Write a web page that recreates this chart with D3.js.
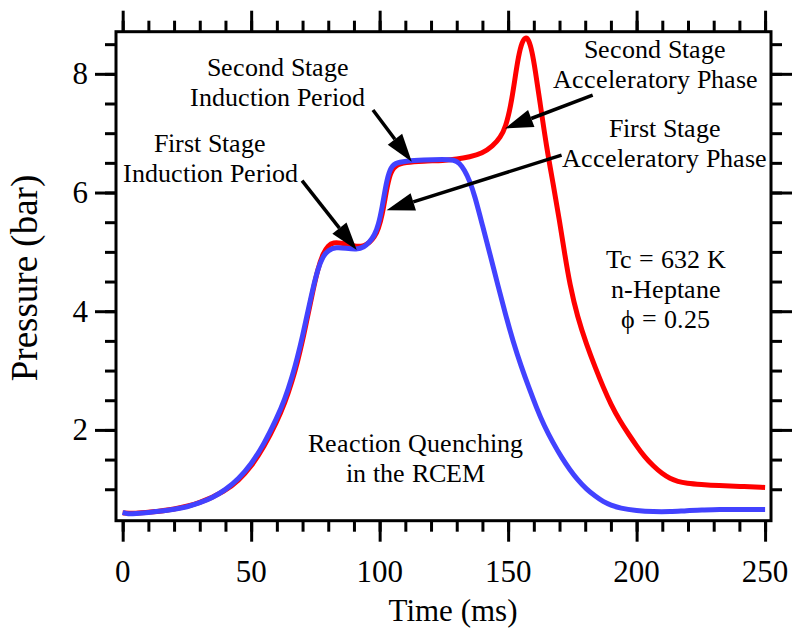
<!DOCTYPE html>
<html>
<head>
<meta charset="utf-8">
<script src="https://cdnjs.cloudflare.com/ajax/libs/d3/7.8.5/d3.min.js"></script>
<style>
  @font-face { font-family: "RefSerif"; src: local("Liberation Serif"), local("LiberationSerif"), local("LiberationSerif-Regular"); }
</style>
</head>
<body style="margin:0">
<script>
// -----------------------------------------------------------------------------
// Data (time in ms, pressure in bar)
// -----------------------------------------------------------------------------

var blueTime = [0, 2, 5, 10, 15, 20, 25, 30, 35, 40, 45, 50, 55, 60, 63, 66, 68, 70, 72, 74, 76, 78,
  80, 83, 87, 91, 94, 96, 98, 99.5, 101, 102.5, 104, 106, 110, 117, 125, 129, 131, 133, 135, 137,
  140, 143, 146, 149, 152, 155, 158, 161, 164, 167.5, 171, 174, 177, 180.5, 184, 187, 190, 193.5,
  200, 206.5, 213, 219.5, 226, 232, 240, 250];
var bluePressure = [0.61, 0.58, 0.59, 0.61, 0.63, 0.66, 0.70, 0.77, 0.86, 0.99, 1.17, 1.42, 1.76, 2.2,
  2.5, 2.9, 3.22, 3.58, 3.98, 4.38, 4.72, 4.93, 5.03, 5.08, 5.06, 5.04, 5.08, 5.16, 5.28, 5.45, 5.75,
  6.15, 6.40, 6.50, 6.53, 6.55, 6.56, 6.55, 6.50, 6.38, 6.2, 5.95, 5.45, 4.95, 4.44, 3.94, 3.48, 3.08,
  2.72, 2.38, 2.07, 1.78, 1.52, 1.33, 1.16, 1.0, 0.88, 0.79, 0.73, 0.68, 0.64, 0.62, 0.62, 0.64,
  0.65, 0.66, 0.66, 0.66];

var redTime = [0, 5, 10, 20, 30, 40, 45, 50, 55, 60, 63, 66, 68, 70, 72, 74, 76, 78, 80, 82, 85, 88,
  91, 94, 96, 98, 99.5, 101, 102.5, 104, 106, 110, 117, 125, 130, 135, 140, 144, 147, 149, 151,
  152.6, 154, 155.5, 156.8, 158, 159.3, 160.5, 162.3, 165, 167.6, 170, 172, 174, 177, 180.5, 184,
  187, 190, 193.5, 197, 200, 203, 206.5, 210, 213, 216, 219.5, 225, 232, 240, 250];
var redPressure = [0.6, 0.59, 0.61, 0.66, 0.76, 0.97, 1.14, 1.38, 1.71, 2.14, 2.44, 2.83, 3.14, 3.5,
  3.92, 4.34, 4.72, 4.98, 5.11, 5.16, 5.15, 5.12, 5.09, 5.1, 5.15, 5.25, 5.38, 5.62, 6.0, 6.32, 6.46,
  6.51, 6.53, 6.54, 6.56, 6.6, 6.66, 6.78, 6.93, 7.1, 7.45, 7.9, 8.3, 8.55, 8.62, 8.58, 8.38, 8.08,
  7.55, 6.75, 6.13, 5.52, 4.97, 4.45, 3.9, 3.44, 3.04, 2.72, 2.43, 2.15, 1.92, 1.73, 1.55, 1.39,
  1.26, 1.18, 1.13, 1.1, 1.08, 1.06, 1.05, 1.03];

var xMajorTicks = [0, 50, 100, 150, 200, 250];
var xMinorTicks = d3.range(0, 251, 10);
var yMajorTicks = [2, 4, 6, 8];
var yMinorTicks = d3.range(1, 8.51, 0.5);

// labels: position given in data units (t, p)
var notes = [
  {lines: ["Second Stage", "Induction Period"], t: 60.4, p: 7.96},
  {lines: ["First Stage", "Induction Period"], t: 34, p: 6.68},
  {lines: ["Second Stage", "Acceleratory Phase"], t: 207.2, p: 8.27},
  {lines: ["First Stage", "Acceleratory Phase"], t: 211, p: 6.94},
  {lines: ["Tc = 632 K", "n-Heptane", "\u03d5 = 0.25"], t: 211.4, p: 4.73},
  {lines: ["Reaction Quenching", "in the RCEM"], t: 113.8, p: 1.63}
];

var arrows = [
  {from: [97.4, 7.39], to: [112.5, 6.52]},
  {from: [69.8, 6.2], to: [91.1, 5.03]},
  {from: [182.9, 7.64], to: [148.8, 7.08]},
  {from: [170.8, 6.63], to: [102.7, 5.7]}
];

// -----------------------------------------------------------------------------
// D3 Configurations
// -----------------------------------------------------------------------------

var WIDTH = 792, HEIGHT = 628;
var plot = {left: 116, top: 31.7, right: 771, bottom: 520.7};

var xScale = d3.scaleLinear()
    .domain([-2.6, 252.3])
    .range([plot.left, plot.right]);

var yScale = d3.scaleLinear()
    .domain([0.47, 8.71])
    .range([plot.bottom, plot.top]);

var svg = d3.select("body").append("svg")
    .attr("width", WIDTH)
    .attr("height", HEIGHT);

function tickAxis(axisFn, scale, values, size, transform) {
  var g = svg.append("g")
      .attr("transform", transform)
      .call(axisFn(scale)
          .tickValues(values)
          .tickSize(size)
          .tickSizeOuter(0)
          .tickFormat(""));
  g.select(".domain").remove();
  g.selectAll("text").remove();
  g.selectAll("line").attr("stroke", "#000").attr("stroke-width", 3);
  return g;
}

// minor + major ticks on all four sides, pointing outward
tickAxis(d3.axisBottom, xScale, xMinorTicks, 11, "translate(0," + plot.bottom + ")");
tickAxis(d3.axisBottom, xScale, xMajorTicks, 21, "translate(0," + plot.bottom + ")");
tickAxis(d3.axisTop, xScale, xMinorTicks, 11, "translate(0," + plot.top + ")");
tickAxis(d3.axisTop, xScale, xMajorTicks, 21, "translate(0," + plot.top + ")");
tickAxis(d3.axisLeft, yScale, yMinorTicks, 11, "translate(" + plot.left + ",0)");
tickAxis(d3.axisLeft, yScale, yMajorTicks, 21, "translate(" + plot.left + ",0)");
tickAxis(d3.axisRight, yScale, yMinorTicks, 11, "translate(" + plot.right + ",0)");
tickAxis(d3.axisRight, yScale, yMajorTicks, 21, "translate(" + plot.right + ",0)");

// tick labels: presentation attribute
svg.selectAll(".xlab")
    .data(xMajorTicks)
  .enter().append("text")
    .attr("class", "xlab")
    .attr("x", function(d) { return xScale(d); })
    .attr("y", 582)
    .attr("font-family", "Liberation Serif")
    .attr("font-size", 31)
    .attr("text-anchor", "middle")
    .text(function(d) { return String(d); });

// y labels: style, Times New Roman
svg.selectAll(".ylab")
    .data(yMajorTicks)
  .enter().append("text")
    .attr("class", "ylab")
    .attr("x", 88)
    .attr("y", function(d) { return yScale(d) + 10.5; })
    .style("font-family", function(d) { return "'Times New Roman'"; })
    .style("font-size", "31px")
    .attr("text-anchor", "end")
    .text(function(d) { return String(d); });

// axis titles: no anchor, centred by measured length
var xt = svg.append("text")
    .attr("y", 621)
    .style("font-family", "'Liberation Serif'")
    .style("font-size", "31px")
    .text("Time (ms)");
xt.attr("x", 453 - xt.node().getComputedTextLength() / 2);

var yt = svg.append("text")
    .style("font-family", "'Liberation Serif'")
    .style("font-size", "37px")
    .text("Pressure (bar)");
yt.attr("transform", "translate(37," + (278 + yt.node().getComputedTextLength() / 2) + ") rotate(-90)");

// curves
var line = d3.line()
    .x(function(d) { return xScale(d[0]); })
    .y(function(d) { return yScale(d[1]); })
    .curve(d3.curveBasis);

svg.append("path")
    .datum(d3.zip(redTime, redPressure))
    .attr("fill", "none")
    .attr("stroke", "#ff0000")
    .attr("stroke-width", 5)
    .attr("stroke-linejoin", "round")
    .attr("d", line);

svg.append("path")
    .datum(d3.zip(blueTime, bluePressure))
    .attr("fill", "none")
    .attr("stroke", "#4242ff")
    .attr("stroke-width", 5)
    .attr("stroke-linejoin", "round")
    .attr("d", line);

// frame
svg.append("rect")
    .attr("x", plot.left)
    .attr("y", plot.top)
    .attr("width", plot.right - plot.left)
    .attr("height", plot.bottom - plot.top)
    .attr("fill", "none")
    .attr("stroke", "#000")
    .attr("stroke-width", 3);

// arrows
var HEAD_LEN = 28, HEAD_HALF = 9;
arrows.forEach(function(a) {
  var x1 = xScale(a.from[0]), y1 = yScale(a.from[1]);
  var x2 = xScale(a.to[0]), y2 = yScale(a.to[1]);
  var ang = Math.atan2(y2 - y1, x2 - x1);
  var bx = x2 - HEAD_LEN * Math.cos(ang), by = y2 - HEAD_LEN * Math.sin(ang);
  var nx = -Math.sin(ang) * HEAD_HALF, ny = Math.cos(ang) * HEAD_HALF;
  svg.append("line")
      .attr("x1", x1).attr("y1", y1)
      .attr("x2", bx).attr("y2", by)
      .attr("stroke", "#000")
      .attr("stroke-width", 3.5);
  svg.append("polygon")
      .attr("points", [[x2, y2], [bx + nx, by + ny], [bx - nx, by - ny]].join(" "))
      .attr("fill", "#000");
});

// annotation text: @font-face alias of the local font
notes.forEach(function(n) {
  n.lines.forEach(function(s, i) {
    svg.append("text")
        .attr("x", xScale(n.t))
        .attr("y", yScale(n.p) + i * 30)
        .style("font-family", "RefSerif, 'Liberation Serif'")
        .style("font-size", "26px")
        .attr("text-anchor", "middle")
        .text(s);
  });
});
</script>
</body>
</html>
